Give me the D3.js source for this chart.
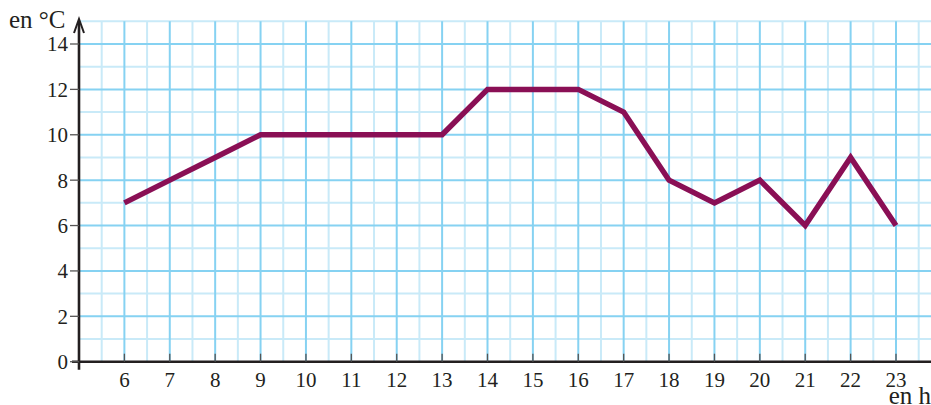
<!DOCTYPE html>
<html><head><meta charset="utf-8">
<script src="https://cdn.jsdelivr.net/npm/d3@7"></script>
<style>body{margin:0;background:#fff}svg{display:block}</style>
</head><body>
<svg id="c" width="931" height="405"></svg>
<script>
const hours = [6,7,8,9,10,11,12,13,14,15,16,17,18,19,20,21,22,23];
const temps = [7,8,9,10,10,10,10,10,12,12,12,11,8,7,8,6,9,6];
const yTicks = [0,2,4,6,8,10,12,14];
const xLabel = "en h";
const yLabel = "en °C";

(function(){
const svg = d3.select("#c");
const x = d3.scaleLinear().domain([5, 23]).range([79, 896]);
const y = d3.scaleLinear().domain([0, 14]).range([361.7, 44]);
const font = "Liberation Serif, serif";

// grid
const g = svg.append("g");
const xMinor = d3.range(5.5, 24, 1), xMajor = d3.range(6, 24, 1);
const yMinor = d3.range(1, 16, 2), yMajor = d3.range(2, 15, 2);
const gTop = y(15), right = 931;
g.selectAll(".xm").data(xMinor).join("line")
  .attr("x1", d=>x(d)).attr("x2", d=>x(d)).attr("y1", gTop).attr("y2", y(0))
  .attr("stroke", "#c9eaf8").attr("stroke-width", 2);
g.selectAll(".ym").data(yMinor).join("line")
  .attr("x1", x(5)).attr("x2", right).attr("y1", d=>y(d)).attr("y2", d=>y(d))
  .attr("stroke", "#c9eaf8").attr("stroke-width", 2);
g.selectAll(".xM").data(xMajor).join("line")
  .attr("x1", d=>x(d)).attr("x2", d=>x(d)).attr("y1", gTop).attr("y2", y(0))
  .attr("stroke", "#86d2f2").attr("stroke-width", 2);
g.selectAll(".yM").data(yMajor).join("line")
  .attr("x1", x(5)).attr("x2", right).attr("y1", d=>y(d)).attr("y2", d=>y(d))
  .attr("stroke", "#86d2f2").attr("stroke-width", 2);

// axes lines
svg.append("line").attr("x1", 72).attr("x2", right).attr("y1", y(0)).attr("y2", y(0))
  .attr("stroke", "#231f20").attr("stroke-width", 2.6);
svg.append("line").attr("x1", x(5)).attr("x2", x(5)).attr("y1", y(0)+8).attr("y2", 22)
  .attr("stroke", "#231f20").attr("stroke-width", 2.6);
svg.append("path").attr("d", `M${x(5)-5},${33} L${x(5)},${19} L${x(5)+5},${33}`)
  .attr("fill", "none").attr("stroke", "#231f20").attr("stroke-width", 2);

// y ticks
svg.selectAll(".yt").data(yTicks).join("line")
  .attr("x1", x(5)-9).attr("x2", x(5)).attr("y1", d=>y(d)).attr("y2", d=>y(d))
  .attr("stroke", "#555").attr("stroke-width", 1.3);
svg.selectAll(".yl").data(yTicks).join("text")
  .attr("x", x(5)-11).attr("y", d=>y(d)).attr("dy", "0.35em")
  .attr("text-anchor", "end").attr("font-family", font).attr("font-size", 21)
  .attr("fill", "#231f20").text(d=>d);

// x ticks
svg.selectAll(".xt").data(hours).join("line")
  .attr("x1", d=>x(d)).attr("x2", d=>x(d)).attr("y1", y(0)-8).attr("y2", y(0))
  .attr("stroke", "#555").attr("stroke-width", 1.3);
svg.selectAll(".xl").data(hours).join("text")
  .attr("x", d=>x(d)).attr("y", 387)
  .attr("text-anchor", "middle").attr("font-family", font).attr("font-size", 21)
  .attr("fill", "#231f20").text(d=>d);

svg.append("text").attr("x", 931).attr("y", 404).attr("text-anchor", "end")
  .attr("font-family", font).attr("font-size", 25).attr("fill", "#231f20").text(xLabel);
svg.append("text").attr("x", 9).attr("y", 28)
  .attr("font-family", font).attr("font-size", 25).attr("fill", "#231f20").text(yLabel);

// data line
const line = d3.line().x((d,i)=>x(hours[i])).y(d=>y(d));
svg.append("path").datum(temps).attr("d", line)
  .attr("fill", "none").attr("stroke", "#8a0f55").attr("stroke-width", 5.5)
  .attr("stroke-linejoin", "miter").attr("stroke-linecap", "butt");
})();
</script>
</body></html>
